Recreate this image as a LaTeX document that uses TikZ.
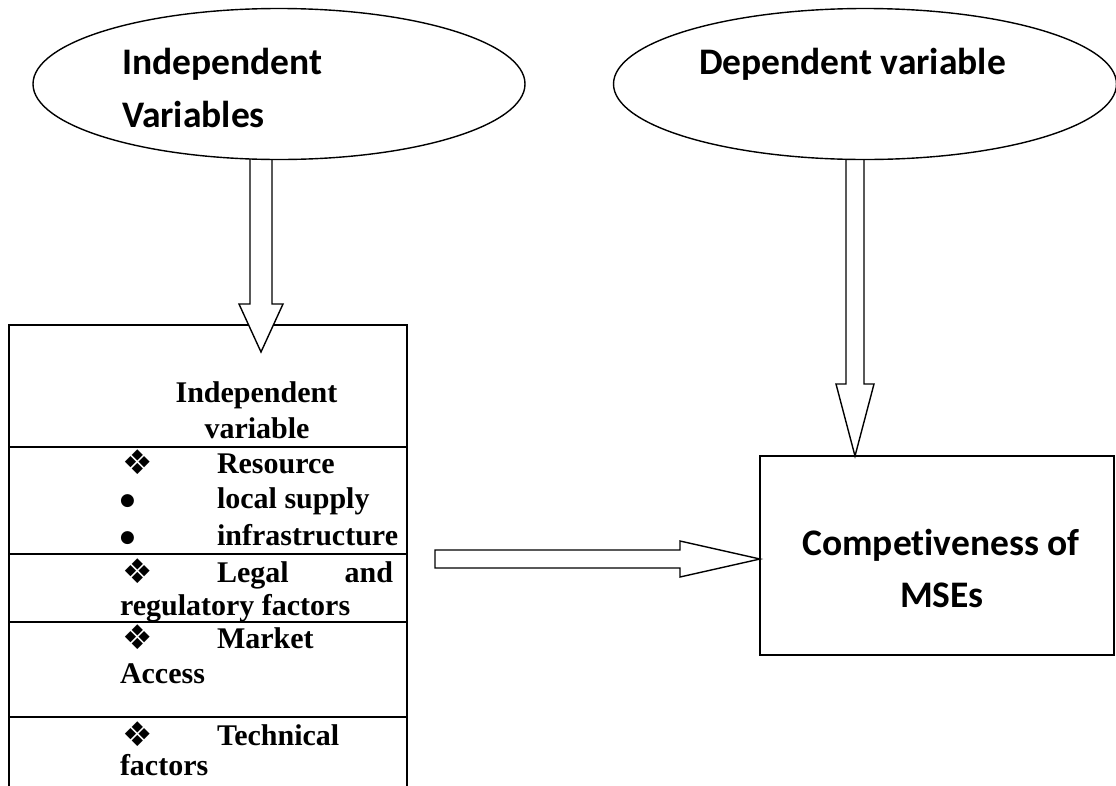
\documentclass[tikz,border=0pt]{standalone}
\usepackage{fontspec}
\setmainfont{Liberation Serif}
\newfontfamily\calfont[Ligatures={NoCommon}]{Carlito}
\newfontfamily\symfont{DejaVu Sans}
\usetikzlibrary{shapes.geometric,calc}
\pgfdeclarelayer{fg}
\pgfsetlayers{main,fg}
\begin{document}
\begin{tikzpicture}[x=1pt,y=-1pt,
  every node/.style={inner sep=0pt, outer sep=0pt},
  oval/.style={draw, ellipse, fill=white, line width=1.4pt, minimum height=151pt},
  cell/.style={draw, line width=1.6pt, anchor=north west, minimum width=398pt},
  blk/.style={draw, fill=white, line width=1.4pt, line join=miter},
  cal/.style={font=\calfont\bfseries\fontsize{37.5}{44}\selectfont},
  tnr/.style={font=\bfseries\fontsize{30}{36}\selectfont},
  sym/.style={font=\symfont\fontsize{34}{40}\selectfont},
  dot/.style={font=\symfont\fontsize{17}{20}\selectfont}
]
\useasboundingbox (0,0) rectangle (1116,785);
\clip (0,0) rectangle (1116,785);

\begin{pgfonlayer}{fg}
\node[oval, minimum width=492pt] (indep) at (279,84) {};
\node[oval, minimum width=503pt] (dep) at (865,84) {};
\node[cal, anchor=base west] (t1) at (122,74) {Independent};
\node[cal, anchor=base west] (t2) at (122,127) {Variables};
\node[cal, anchor=base west] (t3) at (699,74) {Dependent variable};
\end{pgfonlayer}

% table of independent variables
\node[cell, minimum height=122pt] (r1) at (9,325) {};
\node[cell, minimum height=107pt] (r2) at (9,447) {};
\node[cell, minimum height=68pt] (r3) at (9,554) {};
\node[cell, minimum height=95pt] (r4) at (9,622) {};
\node[cell, minimum height=95pt] (r5) at (9,717) {};

\node[tnr, anchor=base] (h1) at (256.5,402) {Independent};
\node[tnr, anchor=base] (h2) at (257,438) {variable};

\node[sym, anchor=base west] (s1) at (122,474) {❖};
\node[tnr, anchor=base west] (l1) at (217,473) {Resource};
\node[dot, anchor=base west] (b1) at (120,505) {●};
\node[tnr, anchor=base west] (l2) at (217,508) {local supply};
\node[dot, anchor=base west] (b2) at (120,542) {●};
\node[tnr, anchor=base west] (l3) at (217,545) {infrastructure};

\node[sym, anchor=base west] (s2) at (122,583) {❖};
\node[tnr, anchor=base west] (l4) at (217,582) {Legal};
\node[tnr, anchor=base east] (l5) at (393,582) {and};
\node[tnr, anchor=base west] (l6) at (120,615) {regulatory factors};

\node[sym, anchor=base west] (s3) at (122,649) {❖};
\node[tnr, anchor=base west] (l7) at (217,648) {Market};
\node[tnr, anchor=base west] (l8) at (120,683) {Access};

\node[sym, anchor=base west] (s4) at (122,746) {❖};
\node[tnr, anchor=base west] (l9) at (217,745) {Technical};
\node[tnr, anchor=base west] (l10) at (120,775) {factors};

% dependent box
\node[draw, line width=1.6pt, minimum width=354pt, minimum height=199pt] (comp) at (937,555.5) {};
\node[cal, anchor=base] (c1) at (941,555) {Competiveness of};
\node[cal, anchor=base] (c2) at (942,607) {MSEs};

% block arrows
\coordinate (a1s) at ($(indep.south)+(-18,-10)$);
\coordinate (a1e) at ($(r1.north west)+(252,27)$);
\draw[blk] ($(a1s)+(-11,0)$) -- ($(a1s)+(11,0)$) -- ($(a1e)+(11,-48)$) -- ($(a1e)+(22,-48)$)
  -- (a1e) -- ($(a1e)+(-22,-48)$) -- ($(a1e)+(-11,-48)$) -- cycle;

\coordinate (a2s) at ($(dep.south)+(-10,-10)$);
\coordinate (a2e) at ($(comp.north west)+(95,0)$);
\draw[blk] ($(a2s)+(-9,0)$) -- ($(a2s)+(9,0)$) -- ($(a2e)+(9,-72)$) -- ($(a2e)+(19,-72)$)
  -- (a2e) -- ($(a2e)+(-19,-72)$) -- ($(a2e)+(-9,-72)$) -- cycle;

\coordinate (a3s) at (435,559);
\coordinate (a3e) at ($(comp.west)+(0,3.5)$);
\draw[blk] ($(a3s)+(0,-9)$) -- ($(a3e)+(-80,-9)$) -- ($(a3e)+(-80,-18)$) -- (a3e)
  -- ($(a3e)+(-80,18)$) -- ($(a3e)+(-80,9)$) -- ($(a3s)+(0,9)$) -- cycle;
\end{tikzpicture}
\end{document}
